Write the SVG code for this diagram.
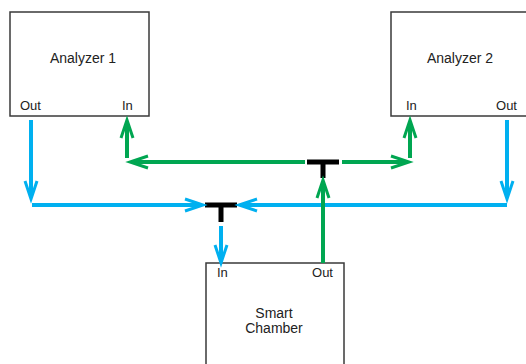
<svg xmlns="http://www.w3.org/2000/svg" width="526" height="364" viewBox="0 0 526 364">
<style>
.box{fill:#fff;stroke:#3a3a3a;stroke-width:1.5}
.t{font-family:"Liberation Sans",Arial,sans-serif;fill:#222;font-size:13px}
.title{font-size:14px;text-anchor:middle}
.end{text-anchor:end}
.blue{stroke:#00b0f0;stroke-width:4;fill:none}
.green{stroke:#00a651;stroke-width:4;fill:none}
.head{stroke-width:3;stroke-linejoin:miter}
.tee{stroke:#000;stroke-width:5;fill:none}
</style>
<rect width="526" height="364" fill="#fff"/>
<g id="analyzer1">
<rect class="box" x="10" y="12" width="139" height="104"/>
<text class="t title" x="83" y="63">Analyzer 1</text>
<text class="t" x="20" y="110">Out</text>
<text class="t" x="122" y="110">In</text>
</g>
<g id="analyzer2">
<rect class="box" x="391" y="12" width="140" height="104"/>
<text class="t title" x="460" y="63">Analyzer 2</text>
<text class="t" x="406" y="110">In</text>
<text class="t end" x="517" y="110">Out</text>
</g>
<g id="smart-chamber">
<rect class="box" x="206" y="263" width="138" height="110"/>
<text class="t" x="217" y="277">In</text>
<text class="t end" x="333" y="277">Out</text>
<text class="t title" x="274" y="318">Smart</text>
<text class="t title" x="274" y="333">Chamber</text>
</g>
<g id="tee1"><path class="tee" d="M205 205H237M221 205V222"/></g>
<g id="tee2"><path class="tee" d="M307 162H339M323 162V178"/></g>
<g id="connectors">
<path class="blue" d="M31 120V197"/>
<path class="blue head" d="M25 181L31 199L37 181"/>
<path class="blue" d="M32 205H201"/>
<path class="blue head" d="M185 199L203 205L185 211"/>
<path class="blue" d="M507 120V197"/>
<path class="blue head" d="M501 181L507 199L513 181"/>
<path class="blue" d="M507 205H241"/>
<path class="blue head" d="M257 199L239 205L257 211"/>
<path class="blue" d="M221 226V261"/>
<path class="blue head" d="M215 245L221 263L227 245"/>
<path class="green" d="M323 263V182"/>
<path class="green head" d="M317 198L323 180L329 198"/>
<path class="green" d="M305 162H132"/>
<path class="green head" d="M148 156L130 162L148 168"/>
<path class="green" d="M342 162H407"/>
<path class="green head" d="M391 156L409 162L391 168"/>
<path class="green" d="M127 158V122"/>
<path class="green head" d="M121 138L127 120L133 138"/>
<path class="green" d="M410 158V122"/>
<path class="green head" d="M404 138L410 120L416 138"/>
</g>
</svg>
